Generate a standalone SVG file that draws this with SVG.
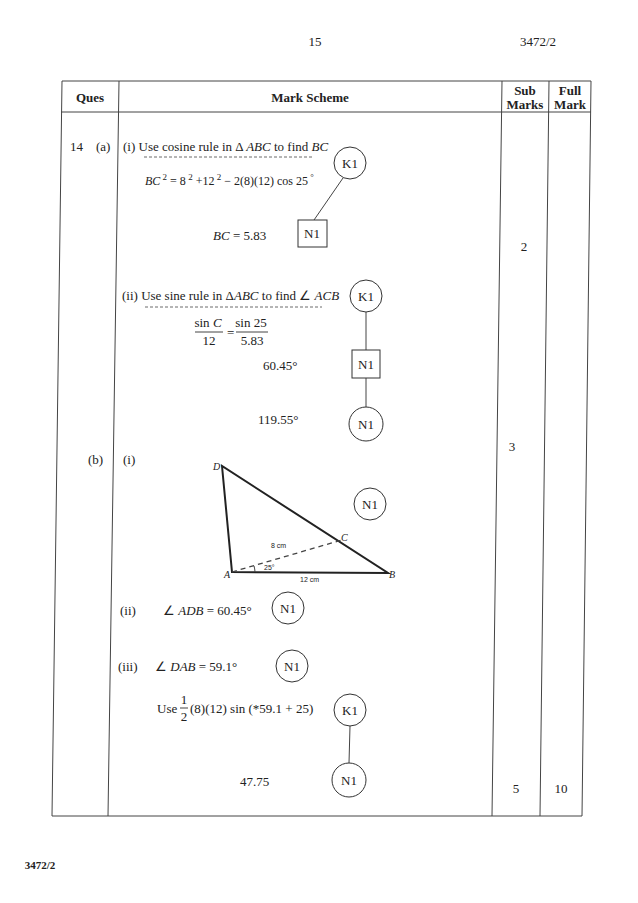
<svg xmlns="http://www.w3.org/2000/svg" width="638" height="903" viewBox="0 0 638 903">
<style>
text{font-family:"Liberation Serif","Times New Roman",serif;font-size:13px;fill:#222}
.b{font-weight:bold;font-size:13px}
.i{font-style:italic}
.s{font-family:"Liberation Sans",Arial,sans-serif;font-size:7px}
.ln{stroke:#444;stroke-width:1;fill:none}
.nd{stroke:#333;stroke-width:1;fill:#fff}
.dash{stroke:#444;stroke-width:0.8;stroke-dasharray:3,2}
</style>
<rect width="638" height="903" fill="#fff"/>
<text x="315" y="46" text-anchor="middle">15</text>
<text x="538" y="46" text-anchor="middle">3472/2</text>
<text x="40" y="869" class="b" style="font-size:11px" text-anchor="middle">3472/2</text>
<g id="table" class="ln">
<line x1="62" y1="81" x2="591" y2="81"/>
<line x1="61" y1="112" x2="591" y2="112"/>
<line x1="52" y1="816" x2="582" y2="816"/>
<line x1="62" y1="81" x2="52" y2="816"/>
<line x1="119" y1="81" x2="108" y2="816"/>
<line x1="502" y1="81" x2="492" y2="816"/>
<line x1="549" y1="81" x2="540" y2="816"/>
<line x1="591" y1="81" x2="582" y2="816"/>
</g>
<text x="90" y="102" class="b" text-anchor="middle">Ques</text>
<text x="310" y="102" class="b" text-anchor="middle">Mark Scheme</text>
<text x="525" y="95" class="b" text-anchor="middle">Sub</text>
<text x="525" y="109" class="b" text-anchor="middle">Marks</text>
<text x="570" y="95" class="b" text-anchor="middle">Full</text>
<text x="570" y="109" class="b" text-anchor="middle">Mark</text>
<text x="70" y="151">14</text>
<text x="96" y="151">(a)</text>
<text x="123" y="151">(i) Use cosine rule in Δ <tspan class="i">ABC</tspan> to find <tspan class="i">BC</tspan></text>
<line x1="144" y1="157" x2="312" y2="157" class="dash"/>
<text x="145" y="185" style="font-size:12px"><tspan class="i">BC</tspan><tspan dy="-5" style="font-size:9px"> 2</tspan><tspan dy="5"> = 8</tspan><tspan dy="-5" style="font-size:9px"> 2</tspan><tspan dy="5"> +12</tspan><tspan dy="-5" style="font-size:9px"> 2</tspan><tspan dy="5"> − 2(8)(12) cos 25</tspan><tspan dy="-5" style="font-size:9px"> °</tspan></text>
<text x="213" y="240"><tspan class="i">BC</tspan> =  5.83</text>
<text x="524" y="251" text-anchor="middle">2</text>
<text x="122" y="300">(ii) Use sine rule in Δ<tspan class="i">ABC</tspan> to find  ∠ <tspan class="i">ACB</tspan></text>
<line x1="145" y1="307" x2="322" y2="307" class="dash"/>
<text x="208" y="327" text-anchor="middle">sin <tspan class="i">C</tspan></text>
<line x1="195" y1="332" x2="223" y2="332" class="ln"/>
<text x="209" y="345" text-anchor="middle">12</text>
<text x="227" y="337">=</text>
<text x="251" y="327" text-anchor="middle">sin 25</text>
<line x1="236" y1="332" x2="268" y2="332" class="ln"/>
<text x="252" y="345" text-anchor="middle">5.83</text>
<text x="263" y="370">60.45°</text>
<text x="258" y="424">119.55°</text>
<text x="512" y="451" text-anchor="middle">3</text>
<text x="88" y="464">(b)</text>
<text x="123" y="464">(i)</text>
<g id="triangle">
<polygon points="222,466 232,572 388,573" fill="none" stroke="#222" stroke-width="2"/>
<line x1="232" y1="572" x2="342" y2="540" stroke="#444" stroke-width="1.3" stroke-dasharray="5,4"/>
<path d="M255,572 A23,23 0 0 0 254,566" class="ln"/>
<text x="213" y="470" class="i" style="font-size:10px">D</text>
<text x="224" y="578" class="i" style="font-size:10px">A</text>
<text x="389" y="578" class="i" style="font-size:10px">B</text>
<text x="341" y="541" class="i" style="font-size:10px">C</text>
<text x="271" y="548" class="s">8 cm</text>
<text x="264" y="570" class="s">25°</text>
<text x="300" y="582" class="s">12 cm</text>
</g>
<text x="120" y="615">(ii)</text>
<text x="163" y="615">∠ <tspan class="i">ADB</tspan> = 60.45°</text>
<text x="118" y="671">(iii)</text>
<text x="155" y="671">∠ <tspan class="i">DAB</tspan> = 59.1°</text>
<text x="157" y="713">Use</text>
<text x="184" y="704" text-anchor="middle">1</text>
<line x1="180" y1="708" x2="188" y2="708" class="ln"/>
<text x="184" y="721" text-anchor="middle">2</text>
<text x="190" y="713">(8)(12) sin (*59.1 + 25)</text>
<text x="240" y="786">47.75</text>
<text x="516" y="793" text-anchor="middle">5</text>
<text x="561" y="793" text-anchor="middle">10</text>
<g id="connectors" class="ln">
<line x1="343" y1="178" x2="314" y2="220"/>
<line x1="366" y1="312" x2="366" y2="350"/>
<line x1="366" y1="378" x2="366" y2="407"/>
<line x1="350" y1="726" x2="349" y2="763"/>
</g>
<g id="k1a"><circle cx="350" cy="163" r="16" class="nd"/><text x="350" y="168" text-anchor="middle">K1</text></g>
<g id="n1a"><rect x="298" y="220" width="29" height="27" class="nd"/><text x="312" y="238" text-anchor="middle">N1</text></g>
<g id="k1b"><circle cx="366" cy="296" r="16" class="nd"/><text x="366" y="301" text-anchor="middle">K1</text></g>
<g id="n1b"><rect x="352" y="350" width="28" height="28" class="nd"/><text x="366" y="369" text-anchor="middle">N1</text></g>
<g id="n1c"><circle cx="366" cy="424" r="17" class="nd"/><text x="366" y="429" text-anchor="middle">N1</text></g>
<g id="n1d"><circle cx="370" cy="504" r="16" class="nd"/><text x="370" y="509" text-anchor="middle">N1</text></g>
<g id="n1e"><circle cx="288" cy="608" r="16" class="nd"/><text x="288" y="613" text-anchor="middle">N1</text></g>
<g id="n1f"><circle cx="292" cy="666" r="16" class="nd"/><text x="292" y="671" text-anchor="middle">N1</text></g>
<g id="k1c"><circle cx="350" cy="710" r="16" class="nd"/><text x="350" y="715" text-anchor="middle">K1</text></g>
<g id="n1g"><circle cx="349" cy="780" r="17" class="nd"/><text x="349" y="785" text-anchor="middle">N1</text></g>
</svg>
